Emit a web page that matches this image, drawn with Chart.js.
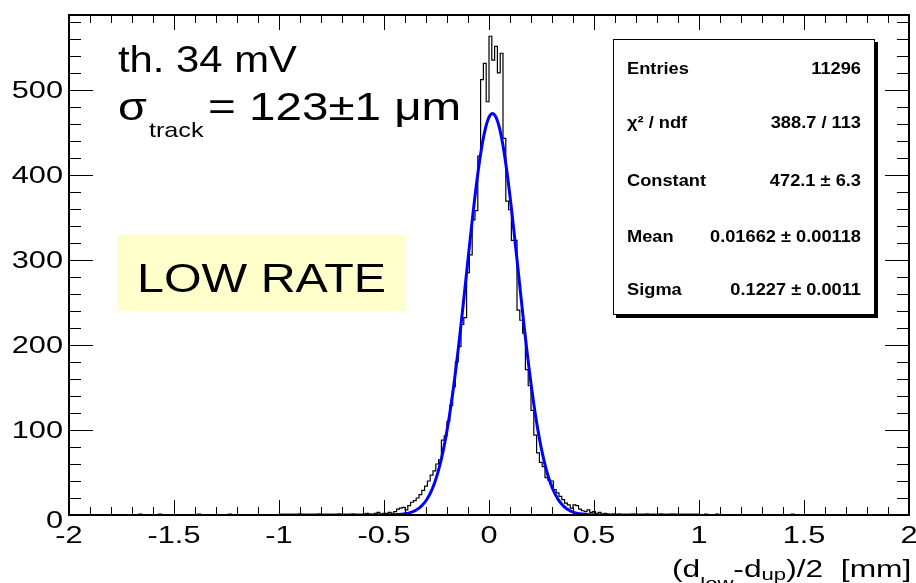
<!DOCTYPE html>
<html>
<head>
<meta charset="utf-8">
<script src="https://cdn.jsdelivr.net/npm/chart.js@4.4.0/dist/chart.umd.min.js"></script>
<style>
  html, body { margin: 0; padding: 0; background: #fff; }
  canvas { display: block; }
</style>
</head>
<body>
<canvas id="myChart" width="916" height="583"></canvas>
<script>
// histogram: 300 bins from -2 to 2
var histMin = -2;
var histMax = 2;
var nBins = 300;
// counts of the central bins, first lower edge at -0.6
var coreStart = -0.6;
var coreCounts = [
    1, 2, 1, 0, 2, 3, 1, 2, 2,
    3, 2, 4, 7, 8, 9, 6,
    11, 15, 17, 20, 24, 29, 34, 40, 47, 52, 60, 65, 88, 93,
    110, 129, 151, 180, 198, 224, 232, 285, 306, 347, 358, 422, 512, 531, 486,
    563, 535, 551, 520, 543, 443, 369, 359, 323, 323, 241, 229, 214, 171, 152,
    123, 94, 73, 62, 57, 44, 41, 40, 30, 26, 22, 18, 14, 12, 8,
    12, 11, 7, 5, 4, 6, 3, 4, 2, 3, 1, 2, 1, 0, 1
];
// lonely entries far out in the tails
var tailX = [-1.66, -1.57, -1.38, -1.24, -0.9, -0.8, -0.71, -0.65, 0.62, 0.68, 0.75, 0.82, 0.88, 1.03, 1.08, 1.45];
var tailCounts = [1, 1, 1, 1, 1, 1, 1, 1, 1, 1, 1, 1, 1, 1, 1, 1];

// gaussian fit result
var fitConstant = 472.1;
var fitMean = 0.01662;
var fitSigma = 0.1227;
var fitRange = [-1, 1];

var statsLabels = ['Entries', '\u03c7\u00b2 / ndf', 'Constant', 'Mean', 'Sigma'];
var statsValues = ['11296', '388.7 / 113', '472.1 \u00b1 6.3', '0.01662 \u00b1 0.00118', '0.1227 \u00b1 0.0011'];

var yTicks = [0, 100, 200, 300, 400, 500];

// build bins
var binWidth = (histMax - histMin) / nBins;
var counts = [];
for (var i = 0; i < nBins; i++) counts.push(0);
var first = Math.round((coreStart - histMin) / binWidth);
coreCounts.forEach(function (c, j) { counts[first + j] = c; });
tailX.forEach(function (x, j) {
    counts[Math.floor((x - histMin) / binWidth)] += tailCounts[j];
});
var histPoints = counts.map(function (c, i) {
    return { x: histMin + i * binWidth, y: c };
});
histPoints.push({ x: histMax, y: counts[nBins - 1] });

var fitPoints = [];
for (var k = 0; k <= 400; k++) {
    var fx = fitRange[0] + (fitRange[1] - fitRange[0]) * k / 400;
    var z = (fx - fitMean) / fitSigma;
    fitPoints.push({ x: fx, y: fitConstant * Math.exp(-0.5 * z * z) });
}

var FONT = '"Liberation Sans", Arial, Helvetica, sans-serif';

function drawText(ctx, str, x, y, size, sx, align, bold) {
    ctx.save();
    ctx.font = (bold ? 'bold ' : '') + size + 'px ' + FONT;
    ctx.textAlign = align || 'left';
    ctx.textBaseline = 'alphabetic';
    ctx.fillStyle = '#000';
    ctx.translate(x, y);
    ctx.scale(sx, 1);
    ctx.fillText(str, 0, 0);
    var w = ctx.measureText(str).width * sx;
    ctx.restore();
    return w;
}

// ROOT style frame, inner ticks, labels and the text boxes
var rootFrame = {
    id: 'rootFrame',
    beforeDatasetsDraw: function (chart) {
        var ctx = chart.ctx;
        ctx.save();
        ctx.fillStyle = '#ffffcc';
        ctx.fillRect(117, 235, 288, 76);
        ctx.restore();
        drawText(ctx, 'LOW RATE', 137, 292, 41, 1.18, 'left');
    },
    afterDatasetsDraw: function (chart) {
        var ctx = chart.ctx;
        var a = chart.chartArea;
        var xs = chart.scales.x;
        var ys = chart.scales.y;
        ctx.save();
        ctx.strokeStyle = '#000';
        ctx.lineWidth = 1;
        ctx.beginPath();
        for (var i = -20; i <= 20; i++) {
            var px = Math.round(xs.getPixelForValue(i / 10)) + 0.5;
            var len = (i % 5 === 0) ? 15 : 8;
            ctx.moveTo(px, a.bottom); ctx.lineTo(px, a.bottom - len);
            ctx.moveTo(px, a.top); ctx.lineTo(px, a.top + len);
        }
        for (var v = 0; v <= 580; v += 20) {
            var py = Math.round(ys.getPixelForValue(v)) + 0.5;
            var l2 = (v % 100 === 0) ? 24 : 12;
            ctx.moveTo(a.left, py); ctx.lineTo(a.left + l2, py);
            ctx.moveTo(a.right, py); ctx.lineTo(a.right - l2, py);
        }
        ctx.stroke();
        ctx.lineWidth = 2;
        ctx.strokeRect(a.left, a.top, a.right - a.left, a.bottom - a.top);
        ctx.restore();

        // tick labels
        xs.ticks.forEach(function (t) {
            var lab = String(Math.round(t.value * 10) / 10);
            drawText(ctx, lab, xs.getPixelForValue(t.value), 543, 24, 1.28, 'center');
        });
        yTicks.forEach(function (t) {
            var yb = ys.getPixelForValue(t) + 8.5;
            if (t === 0) yb += 4;
            drawText(ctx, String(t), 63, yb, 24, 1.28, 'right');
        });

        // axis title
        var x0 = 672;
        x0 += drawText(ctx, '(d', x0, 577, 23, 1.38);
        x0 += drawText(ctx, 'low', x0, 589, 16, 1.38);
        x0 += drawText(ctx, '-d', x0, 577, 23, 1.38);
        x0 += drawText(ctx, 'up', x0, 580, 16, 1.38);
        drawText(ctx, ')/2  [mm]', x0, 577, 23, 1.38);

        // annotations
        drawText(ctx, 'th. 34 mV', 118, 72, 37, 1.13);
        var sw = drawText(ctx, '\u03c3', 118, 120, 39, 1.2);
        drawText(ctx, 'track', 120 + sw, 137, 21, 1.2);
        drawText(ctx, '= 123\u00b11 \u03bcm', 208, 120, 39, 1.22);

        // stats box
        ctx.save();
        ctx.fillStyle = '#000';
        ctx.fillRect(616, 42, 262, 276);
        ctx.fillStyle = '#fff';
        ctx.fillRect(613, 39, 262, 276);
        ctx.strokeStyle = '#000';
        ctx.lineWidth = 1;
        ctx.strokeRect(613.5, 39.5, 261, 275);
        ctx.restore();
        var rowY = [74, 128, 186, 242, 295];
        statsLabels.forEach(function (s, i) {
            drawText(ctx, s, 627, rowY[i], 16, 1.14, 'left', true);
            drawText(ctx, statsValues[i], 861, rowY[i], 16, 1.14, 'right', true);
        });
    }
};

var ctx = document.getElementById('myChart').getContext('2d');
var myChart = new Chart(ctx, {
    type: 'line',
    data: {
        datasets: [{
            label: 'gaus fit',
            data: fitPoints,
            borderColor: '#0000ff',
            borderWidth: 3,
            pointRadius: 0,
            tension: 0
        }, {
            label: 'histogram',
            data: histPoints,
            borderColor: '#000000',
            borderWidth: 1.2,
            pointRadius: 0,
            stepped: true
        }]
    },
    options: {
        responsive: false,
        animation: false,
        devicePixelRatio: 1,
        layout: {
            padding: { top: 15, right: 7, left: 0, bottom: 0 }
        },
        plugins: {
            legend: { display: false },
            tooltip: { enabled: false }
        },
        scales: {
            x: {
                type: 'linear',
                min: histMin,
                max: histMax,
                ticks: { display: false, stepSize: 0.5 },
                grid: { display: false },
                border: { display: false },
                afterFit: function (s) { s.height = 68; }
            },
            y: {
                min: 0,
                max: 588,
                ticks: { display: false, stepSize: 100 },
                grid: { display: false },
                border: { display: false },
                afterFit: function (s) { s.width = 69; }
            }
        }
    },
    plugins: [rootFrame]
});
</script>
</body>
</html>
